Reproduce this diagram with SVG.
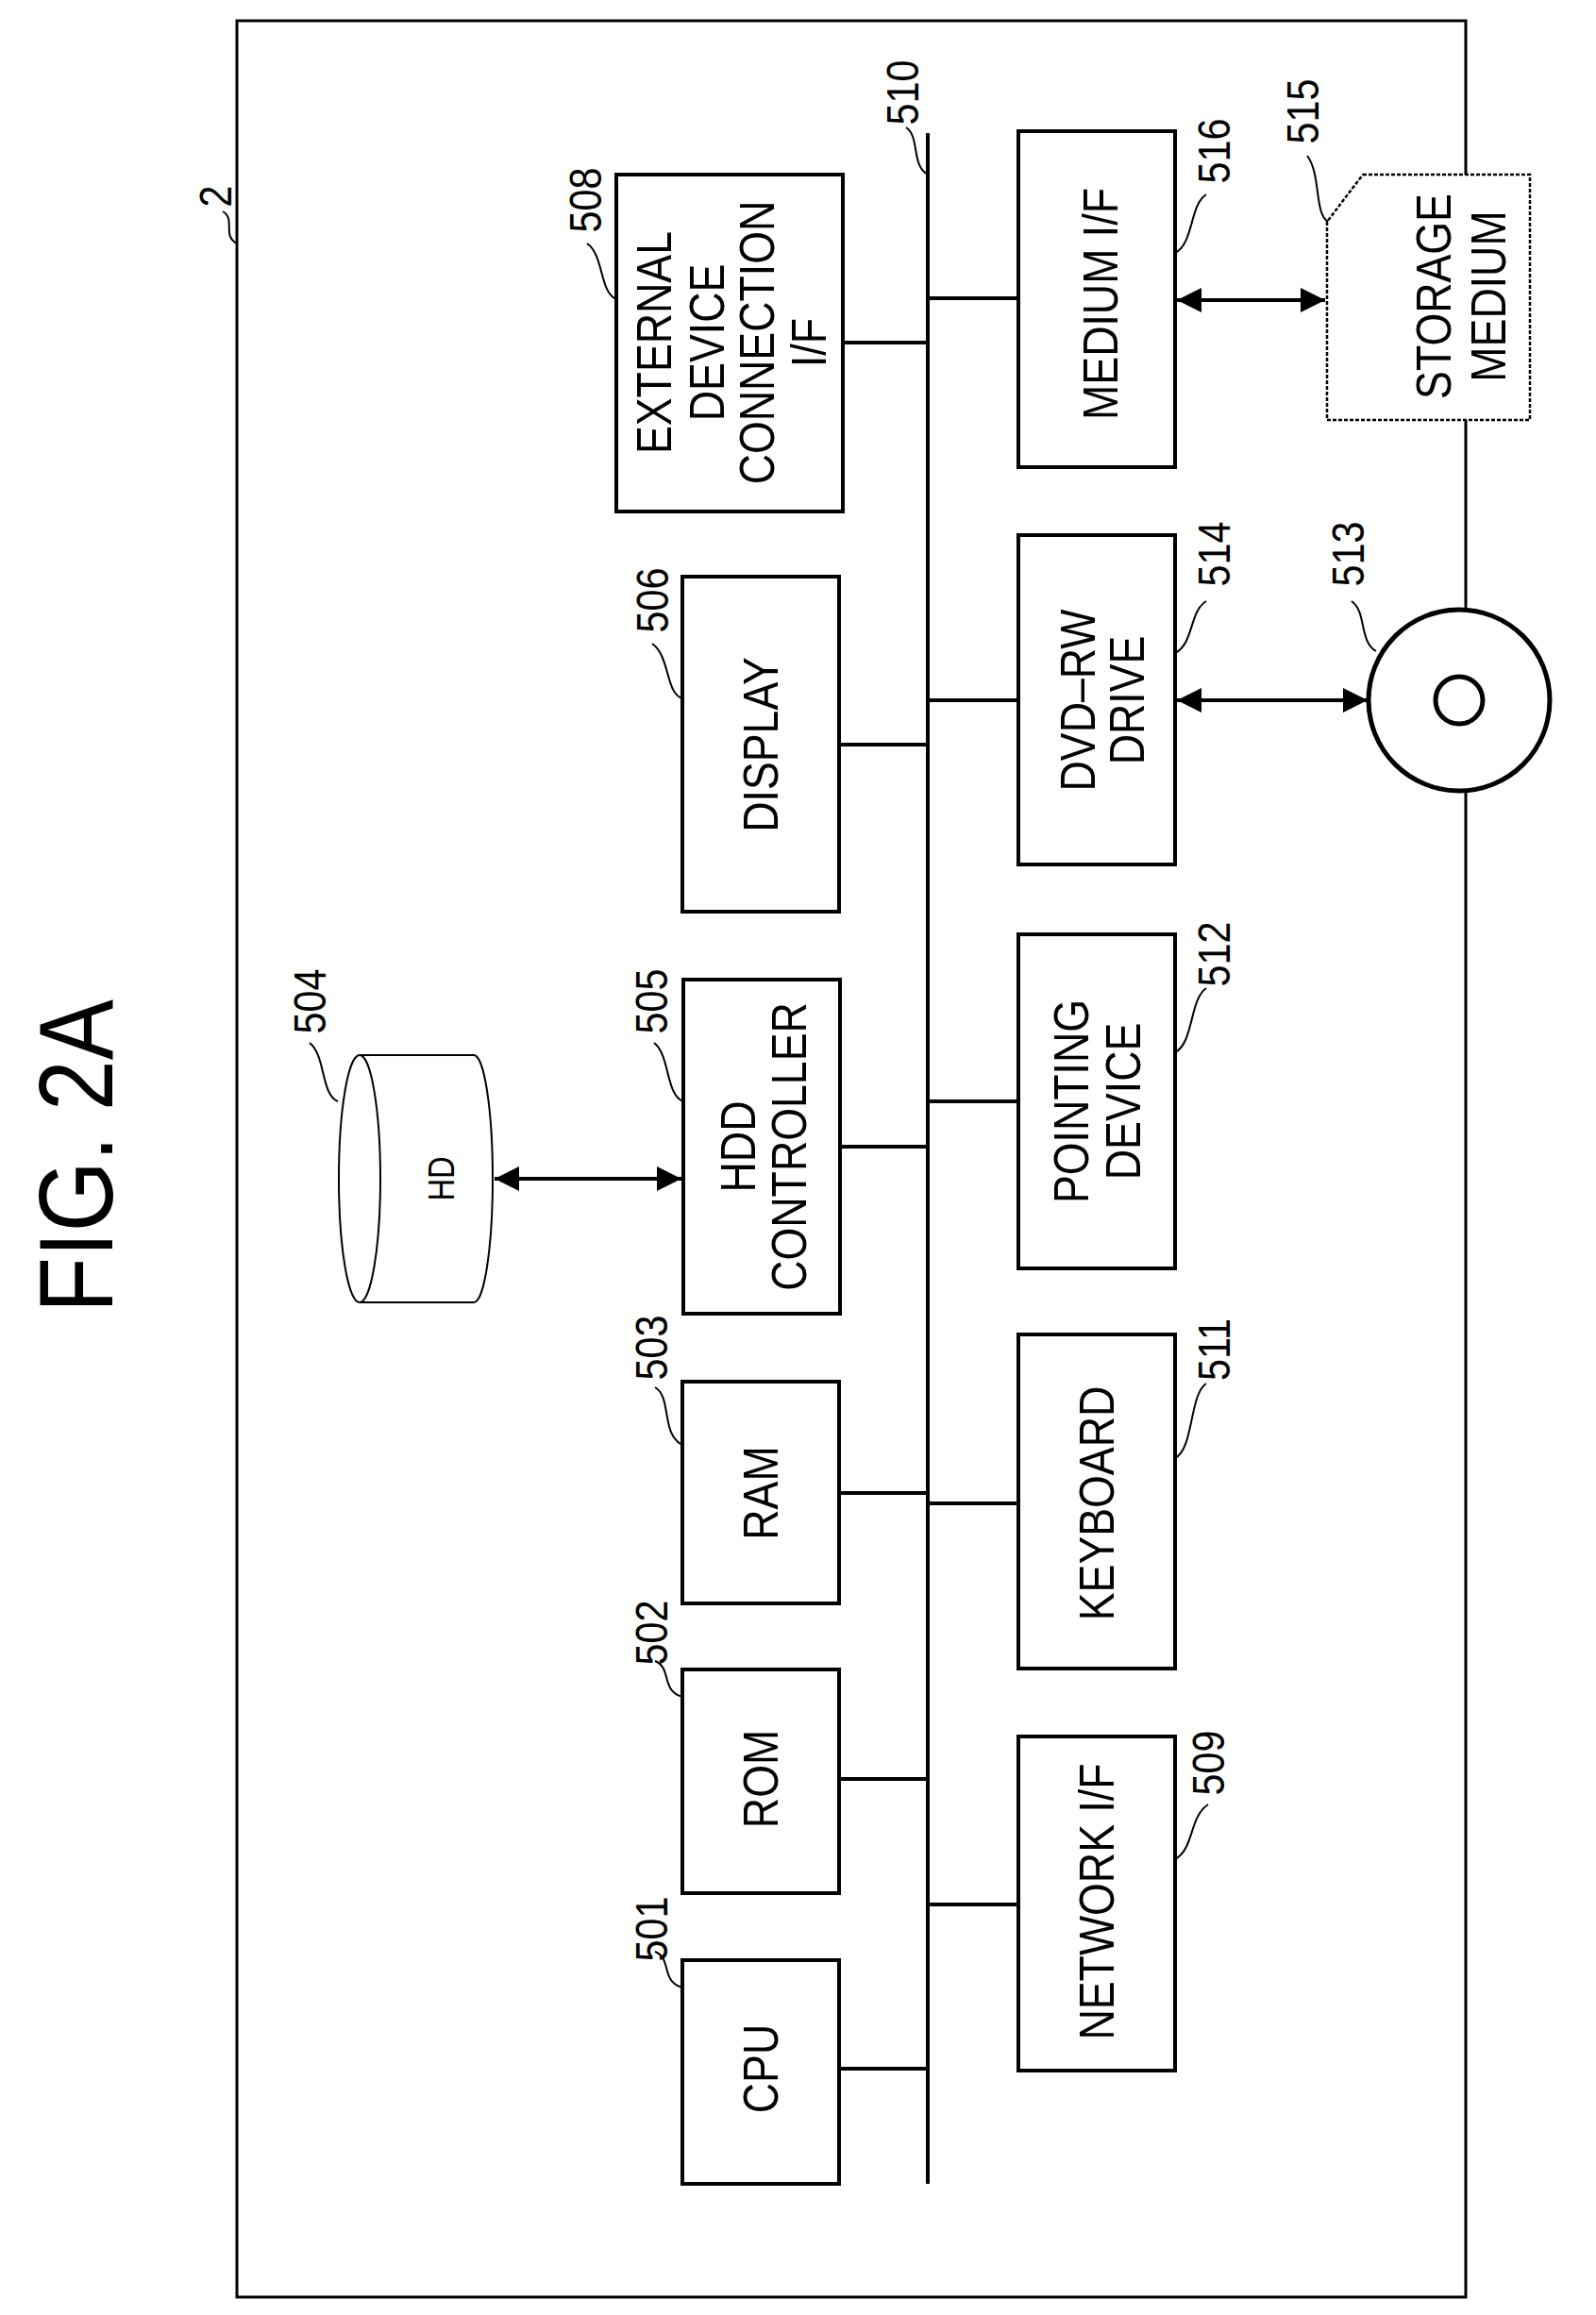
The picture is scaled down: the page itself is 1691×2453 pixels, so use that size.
<svg xmlns="http://www.w3.org/2000/svg" width="1691" height="2453" viewBox="0 0 1691 2453">
<style>
.b{fill:#fff;stroke:#000;stroke-width:4}
.l{fill:none;stroke:#000;stroke-width:4}
.ld{fill:none;stroke:#000;stroke-width:2}
text{font-family:"Liberation Sans",Arial,sans-serif;font-size:52px;text-anchor:middle;dominant-baseline:central;fill:#000}
.n{font-size:48px}
</style>
<defs>
<marker id="ah" viewBox="0 0 10 10" refX="10" refY="5" markerWidth="30" markerHeight="26" orient="auto-start-reverse" markerUnits="userSpaceOnUse"><path d="M0,0 L10,5 L0,10 Z"/></marker>
</defs>
<rect x="251" y="22" width="1302" height="2412" fill="none" stroke="#000" stroke-width="3"/>
<text transform="translate(80,1225) rotate(-90) scale(0.86,1)" style="font-size:112px">FIG. 2A</text>
<g id="frame-label"><text class="n" transform="translate(228,208) rotate(-90) scale(0.86,1)">2</text><path class="ld" d="M251,258 C235,250 250,232 236,224"/></g>
<g id="connectors">
<line class="l" x1="983" y1="141" x2="983" y2="2314"/>
<line class="l" x1="889" y1="2192" x2="983" y2="2192"/>
<line class="l" x1="889" y1="1885" x2="983" y2="1885"/>
<line class="l" x1="889" y1="1582" x2="983" y2="1582"/>
<line class="l" x1="889" y1="1215" x2="983" y2="1215"/>
<line class="l" x1="889" y1="789" x2="983" y2="789"/>
<line class="l" x1="893" y1="363" x2="983" y2="363"/>
<line class="l" x1="983" y1="2018" x2="1079" y2="2018"/>
<line class="l" x1="983" y1="1593" x2="1079" y2="1593"/>
<line class="l" x1="983" y1="1167" x2="1079" y2="1167"/>
<line class="l" x1="983" y1="742" x2="1079" y2="742"/>
<line class="l" x1="983" y1="316" x2="1079" y2="316"/>
<line class="l" x1="524" y1="1249" x2="722" y2="1249" marker-start="url(#ah)" marker-end="url(#ah)"/>
<line class="l" x1="1247" y1="742" x2="1449" y2="742" marker-start="url(#ah)" marker-end="url(#ah)"/>
<line class="l" x1="1247" y1="318" x2="1404" y2="318" marker-start="url(#ah)" marker-end="url(#ah)"/>
</g>
<g id="bus-label"><text class="n" transform="translate(956,98) rotate(-90) scale(0.86,1)">510</text><path class="ld" d="M983,185 C965,175 975,145 960,135"/></g>
<g id="n501"><rect class="b" x="723" y="2077" width="166" height="237"/><text transform="translate(806,2192) rotate(-90) scale(0.86,1)">CPU</text><text class="n" transform="translate(690,2044) rotate(-90) scale(0.86,1)">501</text><path class="ld" d="M723,2106 C700,2100 712,2075 694,2068"/></g>
<g id="n502"><rect class="b" x="723" y="1769" width="166" height="237"/><text transform="translate(806,1885) rotate(-90) scale(0.86,1)">ROM</text><text class="n" transform="translate(690,1730) rotate(-90) scale(0.86,1)">502</text><path class="ld" d="M723,1798 C700,1792 712,1767 694,1760"/></g>
<g id="n503"><rect class="b" x="723" y="1464" width="166" height="235"/><text transform="translate(806,1582) rotate(-90) scale(0.86,1)">RAM</text><text class="n" transform="translate(690,1428) rotate(-90) scale(0.86,1)">503</text><path class="ld" d="M723,1531 C700,1520 712,1480 694,1470"/></g>
<g id="n504"><path class="ld" d="M381,1118 L502,1118 A20,131 0 0 1 502,1380 L381,1380"/><ellipse class="ld" cx="381" cy="1249" rx="22" ry="131" fill="#fff"/><text style="font-size:38px" transform="translate(468,1249) rotate(-90) scale(0.86,1)">HD</text><text class="n" transform="translate(328,1061) rotate(-90) scale(0.86,1)">504</text><path class="ld" d="M358,1167 C340,1160 345,1118 328,1105"/></g>
<g id="n505"><rect class="b" x="724" y="1038" width="166" height="354"/><text transform="translate(782,1215) rotate(-90) scale(0.86,1)">HDD</text><text transform="translate(836,1215) rotate(-90) scale(0.86,1)">CONTROLLER</text><text class="n" transform="translate(690,1061) rotate(-90) scale(0.86,1)">505</text><path class="ld" d="M724,1167 C705,1160 710,1118 693,1105"/></g>
<g id="n506"><rect class="b" x="723" y="611" width="166" height="355"/><text transform="translate(806,789) rotate(-90) scale(0.86,1)">DISPLAY</text><text class="n" transform="translate(691,636) rotate(-90) scale(0.86,1)">506</text><path class="ld" d="M723,740 C705,735 710,695 691,682"/></g>
<g id="n508"><rect class="b" x="653" y="185" width="240" height="357"/><text transform="translate(693,363) rotate(-90) scale(0.86,1)">EXTERNAL</text><text transform="translate(749,363) rotate(-90) scale(0.86,1)">DEVICE</text><text transform="translate(802,363) rotate(-90) scale(0.86,1)">CONNECTION</text><text transform="translate(857,363) rotate(-90) scale(0.86,1)">I/F</text><text class="n" transform="translate(620,212) rotate(-90) scale(0.86,1)">508</text><path class="ld" d="M653,317 C635,310 640,270 622,258"/></g>
<g id="n509"><rect class="b" x="1079" y="1840" width="166" height="354"/><text transform="translate(1162,2015) rotate(-90) scale(0.86,1)">NETWORK I/F</text><text class="n" transform="translate(1280,1868) rotate(-90) scale(0.86,1)">509</text><path class="ld" d="M1245,1970 C1265,1960 1260,1925 1280,1912"/></g>
<g id="n511"><rect class="b" x="1079" y="1414" width="166" height="354"/><text transform="translate(1162,1593) rotate(-90) scale(0.86,1)">KEYBOARD</text><text class="n" transform="translate(1286,1430) rotate(-90) scale(0.86,1)">511</text><path class="ld" d="M1245,1545 C1265,1535 1260,1478 1278,1466"/></g>
<g id="n512"><rect class="b" x="1079" y="990" width="166" height="354"/><text transform="translate(1135,1167) rotate(-90) scale(0.86,1)">POINTING</text><text transform="translate(1190,1167) rotate(-90) scale(0.86,1)">DEVICE</text><text class="n" transform="translate(1286,1011) rotate(-90) scale(0.86,1)">512</text><path class="ld" d="M1245,1115 C1265,1105 1260,1060 1278,1047"/></g>
<g id="n514"><rect class="b" x="1079" y="567" width="166" height="349"/><text transform="translate(1142,742) rotate(-90) scale(0.86,1)">DVD–RW</text><text transform="translate(1194,742) rotate(-90) scale(0.86,1)">DRIVE</text><text class="n" transform="translate(1286,587) rotate(-90) scale(0.86,1)">514</text><path class="ld" d="M1245,692 C1265,682 1260,648 1278,637"/></g>
<g id="n516"><rect class="b" x="1079" y="139" width="166" height="356"/><text transform="translate(1166,322) rotate(-90) scale(0.86,1)">MEDIUM I/F</text><text class="n" transform="translate(1286,160) rotate(-90) scale(0.86,1)">516</text><path class="ld" d="M1245,268 C1265,258 1260,218 1278,206"/></g>
<g id="n513"><circle cx="1546" cy="742" r="96" fill="#fff" stroke="#000" stroke-width="5"/><circle cx="1546" cy="742" r="25" fill="none" stroke="#000" stroke-width="5"/><text class="n" transform="translate(1428,587) rotate(-90) scale(0.86,1)">513</text><path class="ld" d="M1458,690 C1440,680 1448,648 1432,637"/></g>
<g id="n515"><path d="M1444,185 L1621,185 L1621,445 L1406,445 L1406,235 Z" fill="#fff" stroke="#000" stroke-width="2.5" stroke-dasharray="4,2"/><text transform="translate(1519,314) rotate(-90) scale(0.86,1)">STORAGE</text><text transform="translate(1577,314) rotate(-90) scale(0.86,1)">MEDIUM</text><text class="n" transform="translate(1380,118) rotate(-90) scale(0.86,1)">515</text><path class="ld" d="M1407,235 C1392,225 1400,185 1385,165"/></g>
</svg>
